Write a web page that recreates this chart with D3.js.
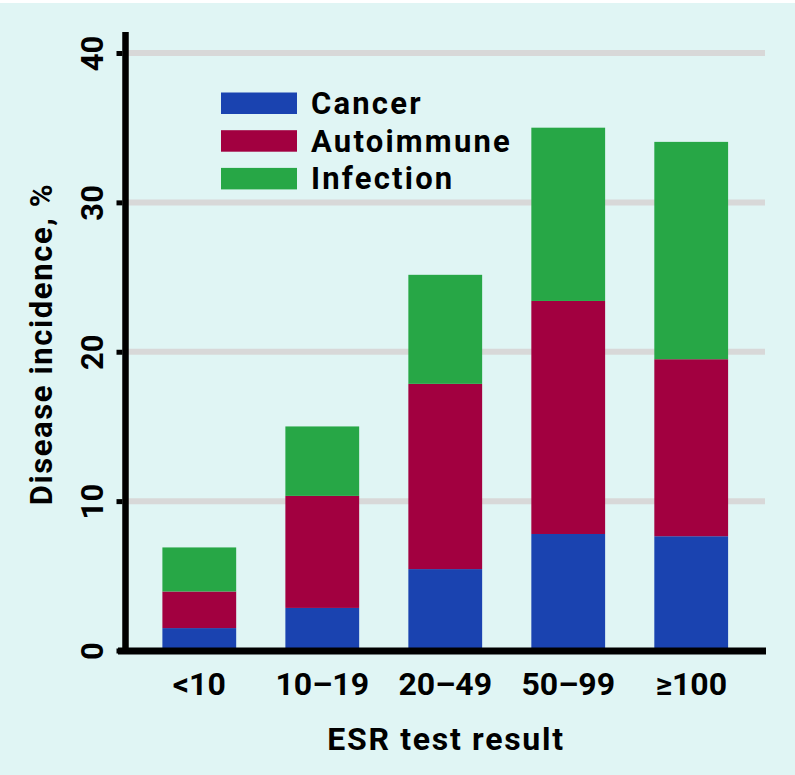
<!DOCTYPE html>
<html><head><meta charset="utf-8">
<script src="https://cdn.jsdelivr.net/npm/d3@7"></script>
<style>
html,body{margin:0;padding:0;background:#ffffff;}
svg{display:block;}
text{font-family:Roboto,"Liberation Sans",sans-serif;font-weight:700;fill:#000;}
</style></head>
<body>
<svg id="chart" width="795" height="775"></svg>
<script>
const categories = ["<10", "10\u201319", "20\u201349", "50\u201399", "\u2265100"];
const seriesNames = ["Cancer", "Autoimmune", "Infection"];
const cancer     = [1.5, 2.85, 5.45, 7.8, 7.65];
const autoimmune = [2.45, 7.5, 12.4, 15.6, 11.85];
const infection  = [2.95, 4.65, 7.3, 11.6, 14.55];
const colors = ["#1a43b0", "#a20040", "#27a746"];
const yTicks = [0, 10, 20, 30, 40];

const svg = d3.select("#chart");
svg.append("rect").attr("x",0).attr("y",3).attr("width",795).attr("height",772).attr("fill","#e0f5f4");

const axisX = 125.5;
const x = d3.scaleBand().domain(categories).range([axisX, 765]).paddingInner(0.4).paddingOuter(0.3);
const y = d3.scaleLinear().domain([0, 40]).range([650.5, 53]);

// gridlines
svg.append("g").selectAll("line").data(yTicks.filter(d=>d>0)).join("line")
  .attr("x1", axisX).attr("x2", 765)
  .attr("y1", d=>y(d)).attr("y2", d=>y(d))
  .attr("stroke","#d8d8d8").attr("stroke-width",6);

// stacked bars
const table = categories.map((c,i)=>({cat:c, Cancer:cancer[i], Autoimmune:autoimmune[i], Infection:infection[i]}));
const stack = d3.stack().keys(seriesNames)(table);
svg.append("g").selectAll("g").data(stack).join("g")
  .attr("fill",(d,i)=>colors[i])
  .selectAll("rect").data(d=>d).join("rect")
  .attr("x", d=>x(d.data.cat)).attr("width", x.bandwidth())
  .attr("y", d=>y(d[1])).attr("height", d=>y(d[0])-y(d[1]));

// y axis
const gy = svg.append("g").attr("transform",`translate(${axisX-3},0)`)
  .call(d3.axisLeft(y).tickValues(yTicks).tickSize(6).tickFormat(d3.format("d")));
gy.select(".domain").remove();
gy.selectAll(".tick line").attr("stroke","#000").attr("stroke-width",5);
gy.selectAll(".tick text")
  .attr("x",0).attr("dy",0)
  .attr("transform","translate(-20,0) rotate(-90)")
  .attr("text-anchor","middle")
  .style("font-size","31px").style("font-family","Roboto, sans-serif").style("font-weight","700").attr("fill","#000");
svg.append("line").attr("x1",axisX).attr("x2",axisX).attr("y1",32).attr("y2",654)
  .attr("stroke","#000").attr("stroke-width",6.5);

// x axis
const gx = svg.append("g").attr("transform","translate(0,651)")
  .call(d3.axisBottom(x).tickSize(0).tickPadding(0));
gx.select(".domain").remove();
gx.selectAll(".tick text").attr("y",44).attr("dy",0)
  .style("font-size","32px").style("font-family","Roboto, sans-serif").style("font-weight","700").attr("fill","#000");
svg.append("line").attr("x1",118).attr("x2",766).attr("y1",651).attr("y2",651)
  .attr("stroke","#000").attr("stroke-width",7);

// axis titles
svg.append("text").attr("x",446).attr("y",750).attr("text-anchor","middle")
  .style("font-size","32px").style("letter-spacing","1.7px").text("ESR test result");
svg.append("text").attr("transform","translate(52,344) rotate(-90)").attr("text-anchor","middle")
  .style("font-size","31px").style("letter-spacing","1.6px").text("Disease incidence, %");

// legend
const leg = svg.append("g").selectAll("g").data(seriesNames).join("g")
  .attr("transform",(d,i)=>`translate(221,${92.5+i*37.7})`);
leg.append("rect").attr("width",76).attr("height",21.5).attr("fill",(d,i)=>colors[i]);
leg.append("text").attr("x",90).attr("y",21.5)
  .style("font-size","31px").style("letter-spacing","2.2px").text(d=>d);
</script>
</body></html>
